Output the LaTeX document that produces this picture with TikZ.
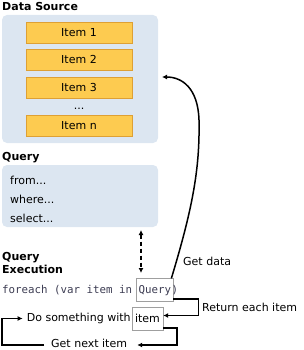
\documentclass[tikz,border=0pt]{standalone}
\usepackage{fontspec}
\setmainfont{DejaVu Sans}
\setmonofont{DejaVu Sans Mono}
\usetikzlibrary{arrows.meta,positioning}
\definecolor{panelblue}{RGB}{220,230,241}
\definecolor{itemfill}{RGB}{253,203,80}
\definecolor{itemline}{RGB}{222,160,52}
\definecolor{codegray}{RGB}{60,60,82}

\begin{document}
\begin{tikzpicture}[x=1pt, y=-1pt, >={Latex[length=5pt,width=5pt]},
  font=\fontsize{11}{13}\selectfont,
  head/.style={anchor=west, inner sep=0pt, font=\fontsize{11}{13}\selectfont\bfseries, align=left},
  panel/.style={fill=panelblue, rounded corners=5pt, inner sep=0pt},
  item/.style={draw=itemline, fill=itemfill, minimum width=106pt, minimum height=21pt, inner sep=0pt},
  line/.style={anchor=west, inner sep=0pt},
  code/.style={inner sep=0pt, font=\fontsize{10.8}{13}\selectfont\ttfamily, text=codegray},
  ref/.style={draw=gray!75, minimum height=23pt, inner xsep=2pt, inner ysep=0pt},
  flow/.style={->, line width=1.5pt}]
\useasboundingbox (0,0) rectangle (303,350);
\node[head] (ds) at (2,6) {Data Source};
\node[panel, minimum width=156pt, minimum height=128pt] (dsp) at (80,79) {};
\node[item] (i1) at (79,32.5) {Item 1};
\node[item, below=6pt of i1] (i2) {Item 2};
\node[item, below=6pt of i2] (i3) {Item 3};
\node[inner sep=0pt, anchor=base] (dots) at (79,110) {...};
\node[item] (in) at (79,126) {Item n};
\node[head] (qh) at (2,158) {Query};
\node[panel, minimum width=156pt, minimum height=62pt] (qp) at (80,196) {};
\node[line] (l1) at (10,180) {from...};
\node[line] (l2) at (10,199) {where...};
\node[line] (l3) at (10,218) {select...};
\node[head] (qe) at (2,262.5) {Query\\Execution};
\node[code, anchor=base west] (pre) at (2,293) {foreach (var item in};
\node[code, ref, anchor=base west] (q) at ([xshift=4pt]pre.base east) {Query};
\node[code, anchor=base west] (cl) at ([xshift=-2pt]q.base east) {)};
\node[ref, minimum width=31pt] (it) at (147.5,318.5) {item};
\node[anchor=east, inner sep=0pt] (do) at ([xshift=-1pt]it.west) {Do something with};
\node[line] (gd) at (183,261) {Get data};
\node[line] (ret) at (202,307) {Return each item};
\node[line] (nx) at (51,343) {Get next item};
\coordinate (up) at (141,230);
\coordinate (dn) at (141,273);
\coordinate (tip) at (162,77);
\coordinate (lp) at (2,345);
\draw[<->, line width=1.5pt, dash pattern=on 4pt off 3pt] (up) -- (dn);
\draw[flow] ([xshift=-2pt]q.north east) .. controls (192,210) and (200,170) .. (199,120)
  .. controls (198,88) and (182,77) .. (tip);
\draw[flow] ([yshift=3pt]q.south east) -- ++(25,0) |- ([yshift=3pt]it.east);
\draw[flow] ([yshift=-9.5pt]it.east) -- ++(14,0) |- ([xshift=10pt,yshift=-2pt]nx.east);
\draw[flow] ([xshift=-7pt,yshift=-2pt]nx.west) -- (lp) |- ([xshift=-4pt]do.west);
\end{tikzpicture}
\end{document}
